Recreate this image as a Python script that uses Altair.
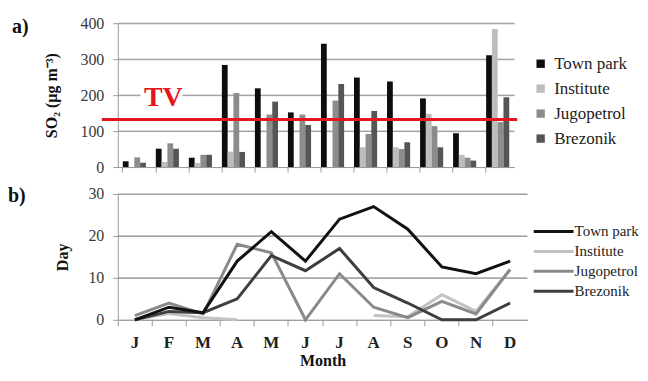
import altair as alt
import pandas as pd

months = ["Jan", "Feb", "Mar", "Apr", "May", "Jun", "Jul", "Aug", "Sep", "Oct", "Nov", "Dec"]
sites = ["Town park", "Institute", "Jugopetrol", "Brezonik"]

# a) SO2 (µg m-3)
so2_town = [16, 51, 26, 284, 219, 152, 343, 249, 238, 191, 94, 311]
so2_inst = [None, 14, 11, 43, None, None, None, 55, 55, 148, 34, 384]
so2_jugo = [27, 66, 34, 206, 146, 146, 185, 92, 50, 114, 26, 125]
so2_brez = [12, 51, 34, 42, 182, 117, 231, 156, 69, 55, 18, 194]
tv_value = 132
so2_ticks = [0, 100, 200, 300, 400]

# b) days
day_town = [0, 3, 1.7, 14, 21, 14, 24, 27, 21.6, 12.6, 11, 14]
day_inst = [0, 1.5, 0.5, 0, None, None, None, 1, 0.7, 6, 2, 12]
day_jugo = [1, 4, 1.4, 18, 16, 0, 11, 3, 0.5, 4.4, 1.4, 12]
day_brez = [0, 2, 1.7, 5, 15.3, 11.7, 17, 7.7, 4, 0, 0, 4]
day_ticks = [0, 10, 20, 30]

bar_colors = ["#0d0d0d", "#bdbdbd", "#8c8c8c", "#555555"]
line_colors = ["#111111", "#c2c2c2", "#8a8a8a", "#3e3e3e"]

FONT = "Liberation Serif"
GRID = "#a0a0a0"
WA, HA = 397, 144
WB, HB = 410, 126

rows_a = []
for s, vals in zip(sites, [so2_town, so2_inst, so2_jugo, so2_brez]):
    for m, v in zip(months, vals):
        rows_a.append({"Month": m, "Site": s, "SO2": v})
df_a = pd.DataFrame(rows_a)

rows_b = []
draw_order = ["Institute", "Jugopetrol", "Brezonik", "Town park"]
series_b = dict(zip(sites, [day_town, day_inst, day_jugo, day_brez]))
for s in draw_order:
    for m, v in zip(months, series_b[s]):
        rows_b.append({"Month": m, "Station": s, "Day": v})
df_b = pd.DataFrame(rows_b)

y_axis_a = alt.Axis(values=so2_ticks, title="SO₂ (µg m⁻³)", grid=True, gridColor=GRID,
                    gridWidth=1, gridOpacity=1,
                    titlePadding=20, labelPadding=9, tickSize=5,
                    labelFont=FONT, titleFont=FONT, labelOverlap=False)
y_scale_a = alt.Scale(domain=[0, 400])
x_a = alt.X("Month:N", sort=months,
            scale=alt.Scale(paddingInner=0.3, paddingOuter=0.15),
            axis=alt.Axis(labels=False, title=None, bandPosition=0, tickSize=5, grid=False))

grid_a = alt.Chart(pd.DataFrame({"SO2": so2_ticks[1:]})).mark_rule(
    color=GRID, strokeWidth=1, opacity=1).encode(
    y=alt.Y("SO2:Q", scale=y_scale_a, axis=y_axis_a), x=alt.value(0), x2=alt.value(WA))

bars = alt.Chart(df_a).mark_bar().encode(
    x=x_a,
    xOffset=alt.XOffset("Site:N", sort=sites, scale=alt.Scale(paddingInner=0, paddingOuter=0)),
    y=alt.Y("SO2:Q", scale=y_scale_a, axis=y_axis_a),
    color=alt.Color("Site:N", sort=sites,
                    scale=alt.Scale(domain=sites, range=bar_colors),
                    legend=alt.Legend(title=None, orient="none", legendX=415, legendY=32,
                                      symbolType="square", symbolSize=70, symbolStrokeWidth=0,
                                      labelFont=FONT, labelFontSize=17, rowPadding=7, labelOffset=5)),
)

tv_rule = alt.Chart(pd.DataFrame({"SO2": [tv_value]})).mark_rule(
    color="#e5161f", strokeWidth=3).encode(
    y=alt.Y("SO2:Q", scale=y_scale_a, axis=y_axis_a), x=alt.value(-16), x2=alt.value(WA + 3))

tv_df = pd.DataFrame({"Month": ["Feb"], "SO2": [192], "label": ["TV"]})
tv_bg = alt.Chart(tv_df).mark_text(font=FONT, fontSize=28, fontWeight="bold",
                                   color="white", stroke="white", strokeWidth=8, dx=-4).encode(
    x=x_a, y=alt.Y("SO2:Q", scale=y_scale_a, axis=y_axis_a), text="label:N")
tv_text = alt.Chart(tv_df).mark_text(font=FONT, fontSize=28, fontWeight="bold",
                                     color="#e5161f", dx=-4).encode(
    x=x_a, y=alt.Y("SO2:Q", scale=y_scale_a, axis=y_axis_a), text="label:N")

lab_a = alt.Chart(pd.DataFrame({"t": ["a)"]})).mark_text(
    font=FONT, fontSize=20, fontWeight="bold", align="left", baseline="middle", color="#111").encode(
    x=alt.value(-106), y=alt.value(4), text="t:N")

panel_a = alt.layer(grid_a, bars, tv_rule, tv_bg, tv_text, lab_a).properties(width=WA, height=HA)

leg_b = alt.Legend(title=None, orient="none", legendX=424.5, legendY=25.5,
                   symbolType="M-1.9,0H1.9", symbolSize=441, symbolStrokeWidth=3,
                   labelFont=FONT, labelFontSize=15, rowPadding=0, labelOffset=9)

y_scale_b = alt.Scale(domain=[0, 30])
y_axis_b = alt.Axis(values=day_ticks, title="Day", titlePadding=17, grid=True, gridColor=GRID,
                    gridWidth=1, gridOpacity=1,
                    labelPadding=9, tickSize=5, labelFont=FONT, titleFont=FONT)

grid_b = alt.Chart(pd.DataFrame({"Day": day_ticks[1:]})).mark_rule(
    color=GRID, strokeWidth=1, opacity=1).encode(
    y=alt.Y("Day:Q", scale=y_scale_b, axis=y_axis_b), x=alt.value(0), x2=alt.value(WB))

lines = alt.Chart(df_b).mark_line(strokeWidth=3).encode(
    x=alt.X("Month:N", sort=months,
            scale=alt.Scale(type="band", paddingInner=0, paddingOuter=0),
            bandPosition=0.5,
            axis=alt.Axis(title="Month", bandPosition=0, tickSize=6,
                          labelPadding=9, labelAngle=0, titlePadding=2,
                          labelExpr="substring(datum.label, 0, 1)", labelFontWeight="bold",
                          labelFont=FONT, titleFont=FONT, labelFontSize=17, titleFontSize=16,
                          labelColor="#222", grid=False)),
    y=alt.Y("Day:Q", scale=y_scale_b, axis=y_axis_b),
    color=alt.Color("Station:N", sort=sites,
                    scale=alt.Scale(domain=sites, range=line_colors),
                    legend=leg_b),
)

lab_b = alt.Chart(pd.DataFrame({"t": ["b)"]})).mark_text(
    font=FONT, fontSize=20, fontWeight="bold", align="left", baseline="middle", color="#111").encode(
    x=alt.value(-110), y=alt.value(2), text="t:N")

panel_b = alt.layer(grid_b, lines, lab_b).properties(width=WB, height=HB)

chart = alt.vconcat(panel_a, panel_b, spacing=11).resolve_scale(
    color="independent", x="independent").resolve_legend(color="independent").properties(
    padding={"left": 0, "top": 7, "right": 0, "bottom": 0}
).configure_view(stroke=None).configure_axis(
    labelFont=FONT, titleFont=FONT, labelFontSize=16, titleFontSize=16,
    labelColor="#3a3a3a", titleColor="#111", titleFontWeight="bold",
    domainColor="#9a9a9a", tickColor="#9a9a9a",
).configure_legend(labelFont=FONT, labelColor="#222")

chart.save("out.html", embed_options={"renderer": "svg", "actions": False})
